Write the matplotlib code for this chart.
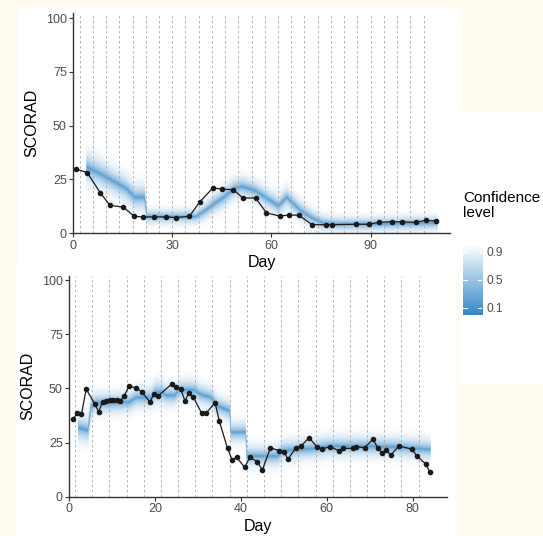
import matplotlib
matplotlib.use("Agg")
import matplotlib.pyplot as plt
import numpy as np
from matplotlib.colors import LinearSegmentedColormap
from matplotlib.patches import Rectangle
from statistics import NormalDist

plt.rcParams["font.family"] = ["Liberation Sans", "DejaVu Sans"]

# ---- patient 1 (top) ----
top_day = [1, 4.3, 8.2, 11.2, 15.2, 18.5, 21.3, 24.5, 28.2, 31.2, 35.2, 38.3,
           42.3, 45.2, 48.4, 51.4, 55.2, 58.5, 62.5, 65.2, 68.3, 72.3, 76.4,
           78.4, 85.5, 89.5, 92.5, 96.6, 99.6, 103.6, 106.7, 109.7]
top_score = [29.8, 28.2, 18.9, 13.0, 12.2, 7.9, 7.6, 7.6, 7.6, 7.3, 7.9, 14.5,
             21.1, 20.5, 20.3, 16.4, 16.4, 9.5, 8.0, 8.5, 8.4, 4.0, 4.0,
             4.0, 4.2, 4.2, 5.1, 5.4, 5.3, 5.1, 6.0, 5.7]
top_band_day = [4, 8, 12, 16, 18.5, 21.5, 22.2, 26, 30, 34, 37, 40, 42.5, 45.5,
                48.5, 51, 55, 58, 62, 64.5, 68.5, 72, 75.5, 80, 90, 100, 110]
top_band_mid = [31, 28, 24.5, 21, 17, 17, 8, 8, 8, 8, 8, 11, 14, 17,
                21, 22, 20, 17, 13, 17, 11, 7.5, 5, 4.5, 4.5, 4.8, 5]
top_band_sd = [6.5, 6, 5.8, 5.5, 5.5, 5.5, 3, 3, 3, 3, 3, 3.6, 4.2, 4.4,
               4.4, 4.4, 4.4, 4.4, 4.4, 4.4, 4.2, 3.6, 3.3, 3.1, 3.1, 3.1, 3.1]
top_visits = [2, 6, 10, 14, 18, 22, 26, 30, 34, 38, 42, 46, 50, 54, 58, 62,
              66, 70, 74, 78, 82, 86, 90, 94, 98, 102, 106]

# ---- patient 2 (bottom) ----
bot_day = [0.9, 1.9, 2.9, 4.0, 6.0, 6.9, 7.8, 8.6, 9.5, 10.3, 11.1, 11.9,
           12.8, 14.0, 15.7, 16.9, 18.8, 19.8, 20.8, 23.9, 24.9, 26.0, 27.0,
           27.9, 28.9, 30.9, 31.9, 34.0, 35.0, 36.9, 38.0, 39.0, 40.9, 42.1,
           43.8, 45.0, 46.9, 48.9, 50.0, 51.0, 52.8, 53.9, 55.9, 57.7, 58.8,
           60.8, 62.8, 63.8, 66.0, 66.9, 68.8, 70.8, 71.9, 72.9, 73.9, 74.9,
           76.8, 79.9, 80.9, 83.0, 84.0]
bot_score = [35.7, 38.5, 38.0, 49.7, 42.8, 39.2, 43.8, 44.3, 44.6, 44.6, 44.6,
             44.2, 46.3, 51.2, 50.0, 48.5, 43.8, 47.2, 46.6, 52.0, 50.8, 49.7,
             44.2, 48.0, 46.1, 38.5, 38.5, 43.4, 34.9, 22.3, 16.9, 18.2, 13.6,
             18.2, 16.2, 12.3, 22.6, 21.2, 20.8, 17.3, 22.6, 23.2, 27.2, 23.1,
             22.0, 23.1, 21.2, 22.3, 22.3, 23.1, 22.6, 26.6, 22.3, 20.3, 21.5,
             19.2, 23.4, 21.9, 18.9, 15.2, 11.5]
bot_band_day = [2, 4.3, 5, 6, 10, 14, 15.5, 19, 20, 21.5, 22.5, 24.5, 25.5, 29,
                30.5, 33, 34.5, 37.3, 37.6, 41, 41.3, 48.5, 49.5, 57, 60, 70,
                78, 84]
bot_band_mid = [32, 31, 41.5, 43.5, 43.5, 44, 46, 46, 48.5, 48.5, 47, 47, 49.5,
                49.5, 47.5, 46, 42, 40, 30, 30, 19, 19, 21.5, 22.5, 23.5, 23.5,
                23, 22]
bot_band_sd = [5.5, 5.5, 4.8, 4.4, 4.4, 4.4, 4.4, 4.4, 5, 5, 4.4, 4.4, 4.4,
               4.4, 4.4, 4.4, 4.4, 4.4, 4.4, 4.4, 4.4, 4.4, 4.4, 4.4, 4.4, 4.4,
               4.4, 4.4]
bot_visits = [1.4, 5.4, 9.4, 13.4, 17.4, 21.4, 25.4, 29.4, 33.4, 37.4, 41.4,
              45.4, 49.4, 53.4, 57.4, 61.4, 65.4, 69.4, 73.4, 77.4, 81.4]

levels = [0.95, 0.9, 0.85, 0.8, 0.75, 0.7, 0.65, 0.6, 0.55, 0.5, 0.45, 0.4,
          0.35, 0.3, 0.25, 0.2, 0.15, 0.1, 0.05]

W, H = 543, 536
cream = "#fffbf0"
cmap = LinearSegmentedColormap.from_list("conf", ["#3288c8", "#ffffff"])
axis_col = "#333333"
tick_col = "#4d4d4d"

fig = plt.figure(figsize=(W / 100, H / 100), dpi=100, facecolor=cream)


def px_rect(x0, y0, x1, y1, **kw):
    fig.patches.append(Rectangle((x0 / W, 1 - y1 / H), (x1 - x0) / W, (y1 - y0) / H,
                                 transform=fig.transFigure, zorder=-10, **kw))


px_rect(18, 8, 460, 270, facecolor="white", edgecolor="none")
px_rect(460, 112, 543, 383, facecolor="white", edgecolor="none")
px_rect(15, 265, 455, 536, facecolor="white", edgecolor="none")


def px_axes(x0, y0, x1, y1):
    return fig.add_axes([x0 / W, 1 - y1 / H, (x1 - x0) / W, (y1 - y0) / H])


def draw_panel(ax, day, score, bday, bmid, bsd, visits, xmax, xticks, ymax):
    ax.set_facecolor("none")
    bday = np.array(bday)
    bmid = np.array(bmid)
    bsd = np.array(bsd)
    for q in levels:
        z = NormalDist().inv_cdf(0.5 + q / 2)
        ax.fill_between(bday, bmid - z * bsd, bmid + z * bsd,
                        color=cmap(q ** 0.5), lw=0, zorder=2)
    for v in visits:
        ax.axvline(v, color="#a8a8a8", lw=0.6, dashes=(3, 3), zorder=2.5)
    ax.plot(day, score, color="#1a1a1a", lw=0.9, marker="o", ms=3.0, zorder=3)
    ax.set_xlim(0, xmax)
    ax.set_ylim(0, ymax)
    ax.set_xticks(xticks)
    ax.set_yticks([0, 25, 50, 75, 100])
    for s in ["top", "right"]:
        ax.spines[s].set_visible(False)
    for s in ["left", "bottom"]:
        ax.spines[s].set_color(axis_col)
        ax.spines[s].set_linewidth(1.0)
    ax.tick_params(colors=axis_col, labelcolor=tick_col, labelsize=9,
                   length=3, width=0.8, pad=1.5)
    ax.set_xlabel("Day", fontsize=11.5, color="black")
    ax.set_ylabel("SCORAD", fontsize=11.5, color="black")
    ax.xaxis.set_label_coords(0.5, -0.1)
    ax.yaxis.set_label_coords(-0.09, 0.5)


ax1 = px_axes(73, 12.7, 450, 233.3)
draw_panel(ax1, top_day, top_score, top_band_day, top_band_mid, top_band_sd,
           top_visits, 114, [0, 30, 60, 90], 102.5)

ax2 = px_axes(69, 275.7, 447, 496.7)
draw_panel(ax2, bot_day, bot_score, bot_band_day, bot_band_mid, bot_band_sd,
           bot_visits, 88, [0, 20, 40, 60, 80], 102)

# legend: confidence level colour bar
cax = px_axes(463, 245, 482, 315)
grad = np.linspace(0, 1, 256)[:, None]
cax.imshow(grad, origin="lower", extent=[0, 1, 0, 1], cmap=cmap, aspect="auto")
for t in [0.1, 0.5, 0.9]:
    cax.plot([0, 0.2], [t, t], color="white", lw=0.8)
    cax.plot([0.8, 1], [t, t], color="white", lw=0.8)
cax.set_xlim(0, 1)
cax.set_ylim(0, 1)
cax.set_xticks([])
cax.yaxis.tick_right()
cax.set_yticks([0.1, 0.5, 0.9])
cax.set_yticklabels(["0.1", "0.5", "0.9"])
cax.tick_params(axis="y", length=0, pad=3, labelsize=8.6, labelcolor=tick_col)
for s in cax.spines.values():
    s.set_visible(False)
fig.text(463 / W, 1 - 191 / H, "Confidence\nlevel", va="top", ha="left",
         fontsize=11, linespacing=1.05)

fig.savefig("out.png", dpi=100, facecolor=cream)
